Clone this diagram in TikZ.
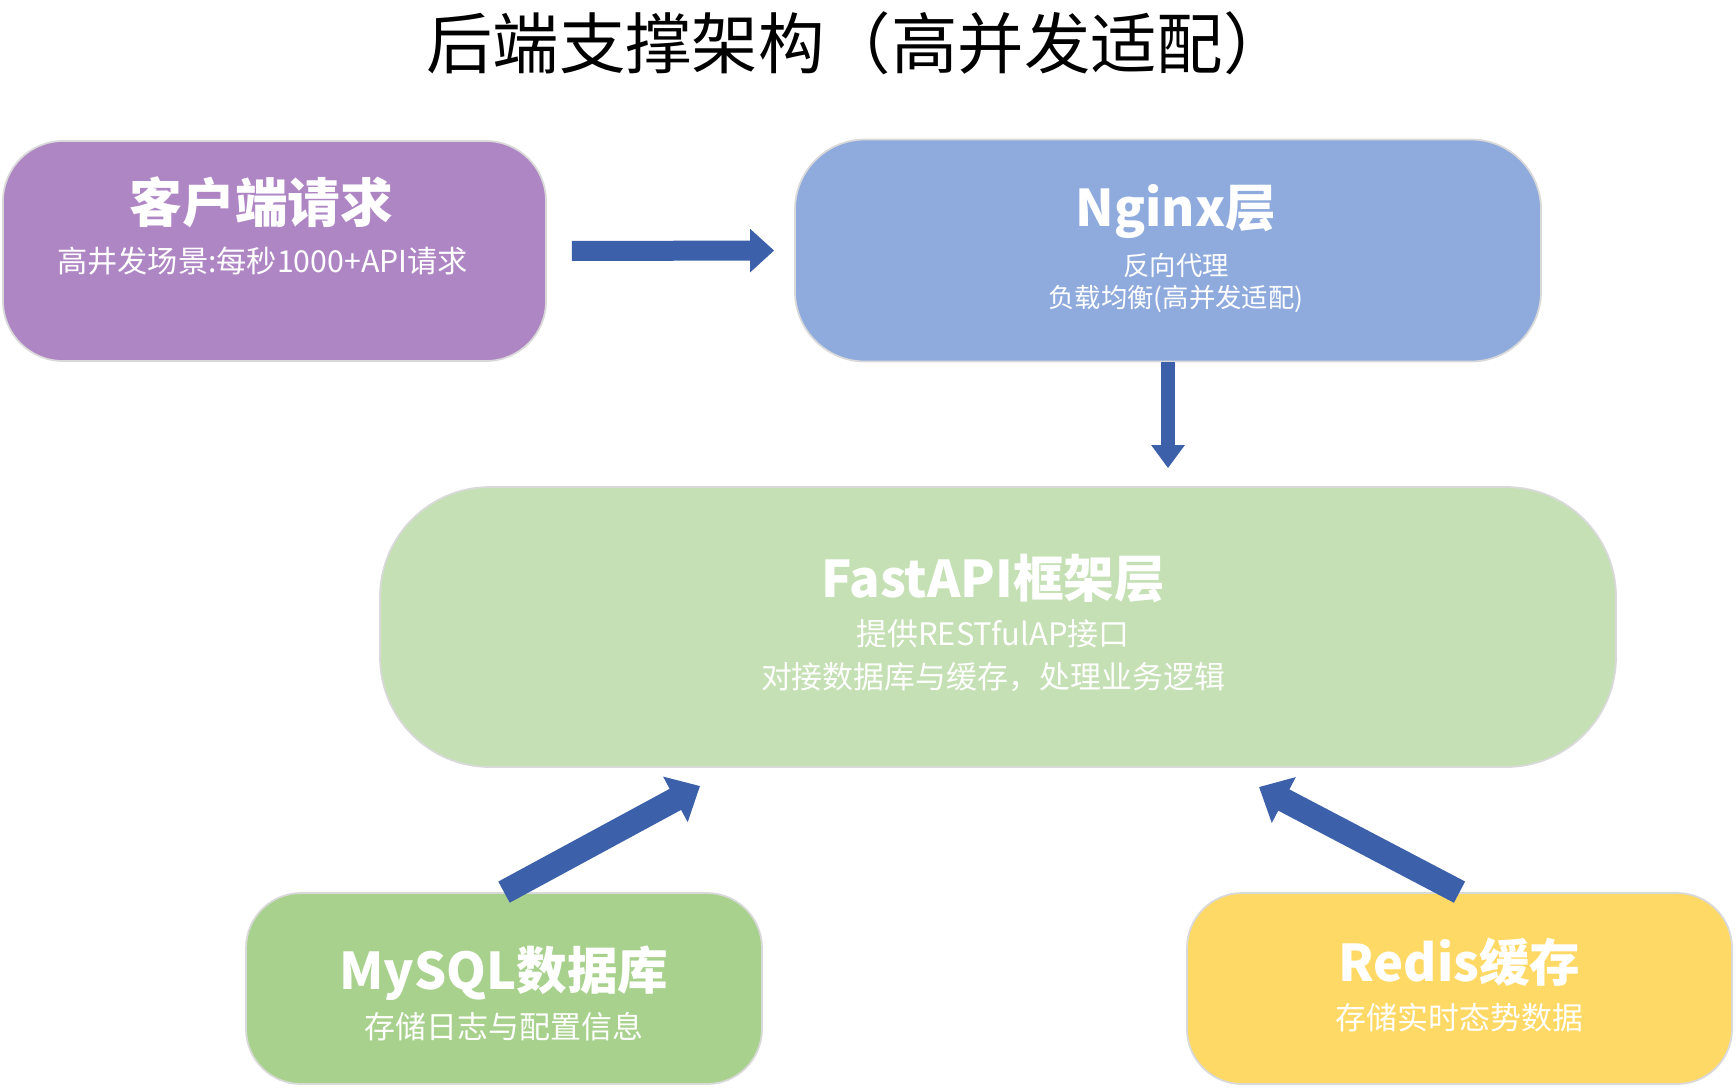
\documentclass[tikz,border=0pt]{standalone}
\usepackage{fontspec}
\setmainfont{Noto Sans CJK SC}
\usetikzlibrary{arrows.meta, positioning}

\definecolor{clientc}{RGB}{175,134,196}
\definecolor{nginxc}{RGB}{143,170,220}
\definecolor{fastc}{RGB}{197,224,180}
\definecolor{mysqlc}{RGB}{169,209,142}
\definecolor{redisc}{RGB}{255,217,102}
\definecolor{arrowc}{RGB}{60,97,170}

\begin{document}
\begin{tikzpicture}[
    box/.style={draw=black!15, line width=0.5pt, rounded corners=0.6cm, inner sep=0pt},
    head/.style={text=white, font=\bfseries\fontsize{14.4}{17}\selectfont},
    sub/.style={text=white, font=\fontsize{8.8}{10.5}\selectfont},
    small/.style={text=white, font=\fontsize{7.5}{9}\selectfont},
    flow/.style={draw=arrowc, line cap=butt}
  ]

  \useasboundingbox (0,0) rectangle (17.36,10.87);

  % Title
  \node[font=\fontsize{18.9}{22}\selectfont] (title) at (8.58,10.44) {后端支撑架构（高并发适配）};

  % Layer boxes
  \node[box, fill=clientc, minimum width=5.43cm, minimum height=2.2cm] (client) at (2.745,8.36) {};
  \node[box, fill=nginxc, minimum width=7.46cm, minimum height=2.22cm, rounded corners=0.7cm] (nginx) at (11.68,8.365) {};
  \node[box, fill=fastc, minimum width=12.36cm, minimum height=2.8cm, rounded corners=1.1cm] (fastapi) at (9.98,4.60) {};
  \node[box, fill=mysqlc, minimum width=5.16cm, minimum height=1.91cm, rounded corners=0.55cm] (mysql) at (5.04,0.985) {};
  \node[box, fill=redisc, minimum width=5.45cm, minimum height=1.91cm, rounded corners=0.55cm] (redis) at (14.595,0.985) {};

  % Box texts
  \node[head, font=\bfseries\fontsize{15}{18}\selectfont] (clienthead) at ([xshift=-0.13cm, yshift=-0.62cm]client.north) {客户端请求};
  \node[small, font=\fontsize{8.6}{10}\selectfont] (clientsub) at ([xshift=-0.12cm, yshift=-1.21cm]client.north) {高井发场景:每秒1000+API请求};

  \node[head] (nginxhead) at ([xshift=0.08cm, yshift=-0.73cm]nginx.north) {Nginx层};
  \node[small] (nginxsub1) at ([xshift=0.08cm, yshift=-1.27cm]nginx.north) {反向代理};
  \node[small] (nginxsub2) at ([xshift=0.08cm, yshift=-1.60cm]nginx.north) {负载均衡(高并发适配)};

  \node[head] (fasthead) at ([xshift=-0.05cm, yshift=-0.92cm]fastapi.north) {FastAPI框架层};
  \node[sub] (fastsub1) at ([xshift=-0.05cm, yshift=-1.48cm]fastapi.north) {提供RESTfulAP接口};
  \node[sub] (fastsub2) at ([xshift=-0.05cm, yshift=-1.91cm]fastapi.north) {对接数据库与缓存，处理业务逻辑};

  \node[head] (mysqlhead) at ([yshift=-0.81cm]mysql.north) {MySQL数据库};
  \node[sub] (mysqlsub) at ([yshift=-1.34cm]mysql.north) {存储日志与配置信息};

  \node[head] (redishead) at ([yshift=-0.70cm]redis.north) {Redis缓存};
  \node[sub] (redissub) at ([yshift=-1.26cm]redis.north) {存储实时态势数据};

  % Arrow ends towards the FastAPI layer
  \coordinate (mysqltip) at (7.00,3.01);
  \coordinate (redistip) at (12.59,3.00);

  % Flow arrows
  \draw[flow, line width=0.2cm, -{Triangle[width=0.42cm, length=0.24cm]}, shorten <=0.25cm, shorten >=0.2cm]
    (client.east) -- (nginx.west);
  \draw[flow, line width=0.14cm, -{Triangle[width=0.32cm, length=0.23cm]}, shorten >=0.18cm]
    (nginx.south) -- (nginx.south |- fastapi.north);
  \draw[flow, line width=0.24cm, -{Triangle[width=0.5cm, length=0.28cm]}]
    (mysql.north) -- (mysqltip);
  \draw[flow, line width=0.24cm, -{Triangle[width=0.5cm, length=0.28cm]}]
    (redis.north) -- (redistip);

\end{tikzpicture}
\end{document}
